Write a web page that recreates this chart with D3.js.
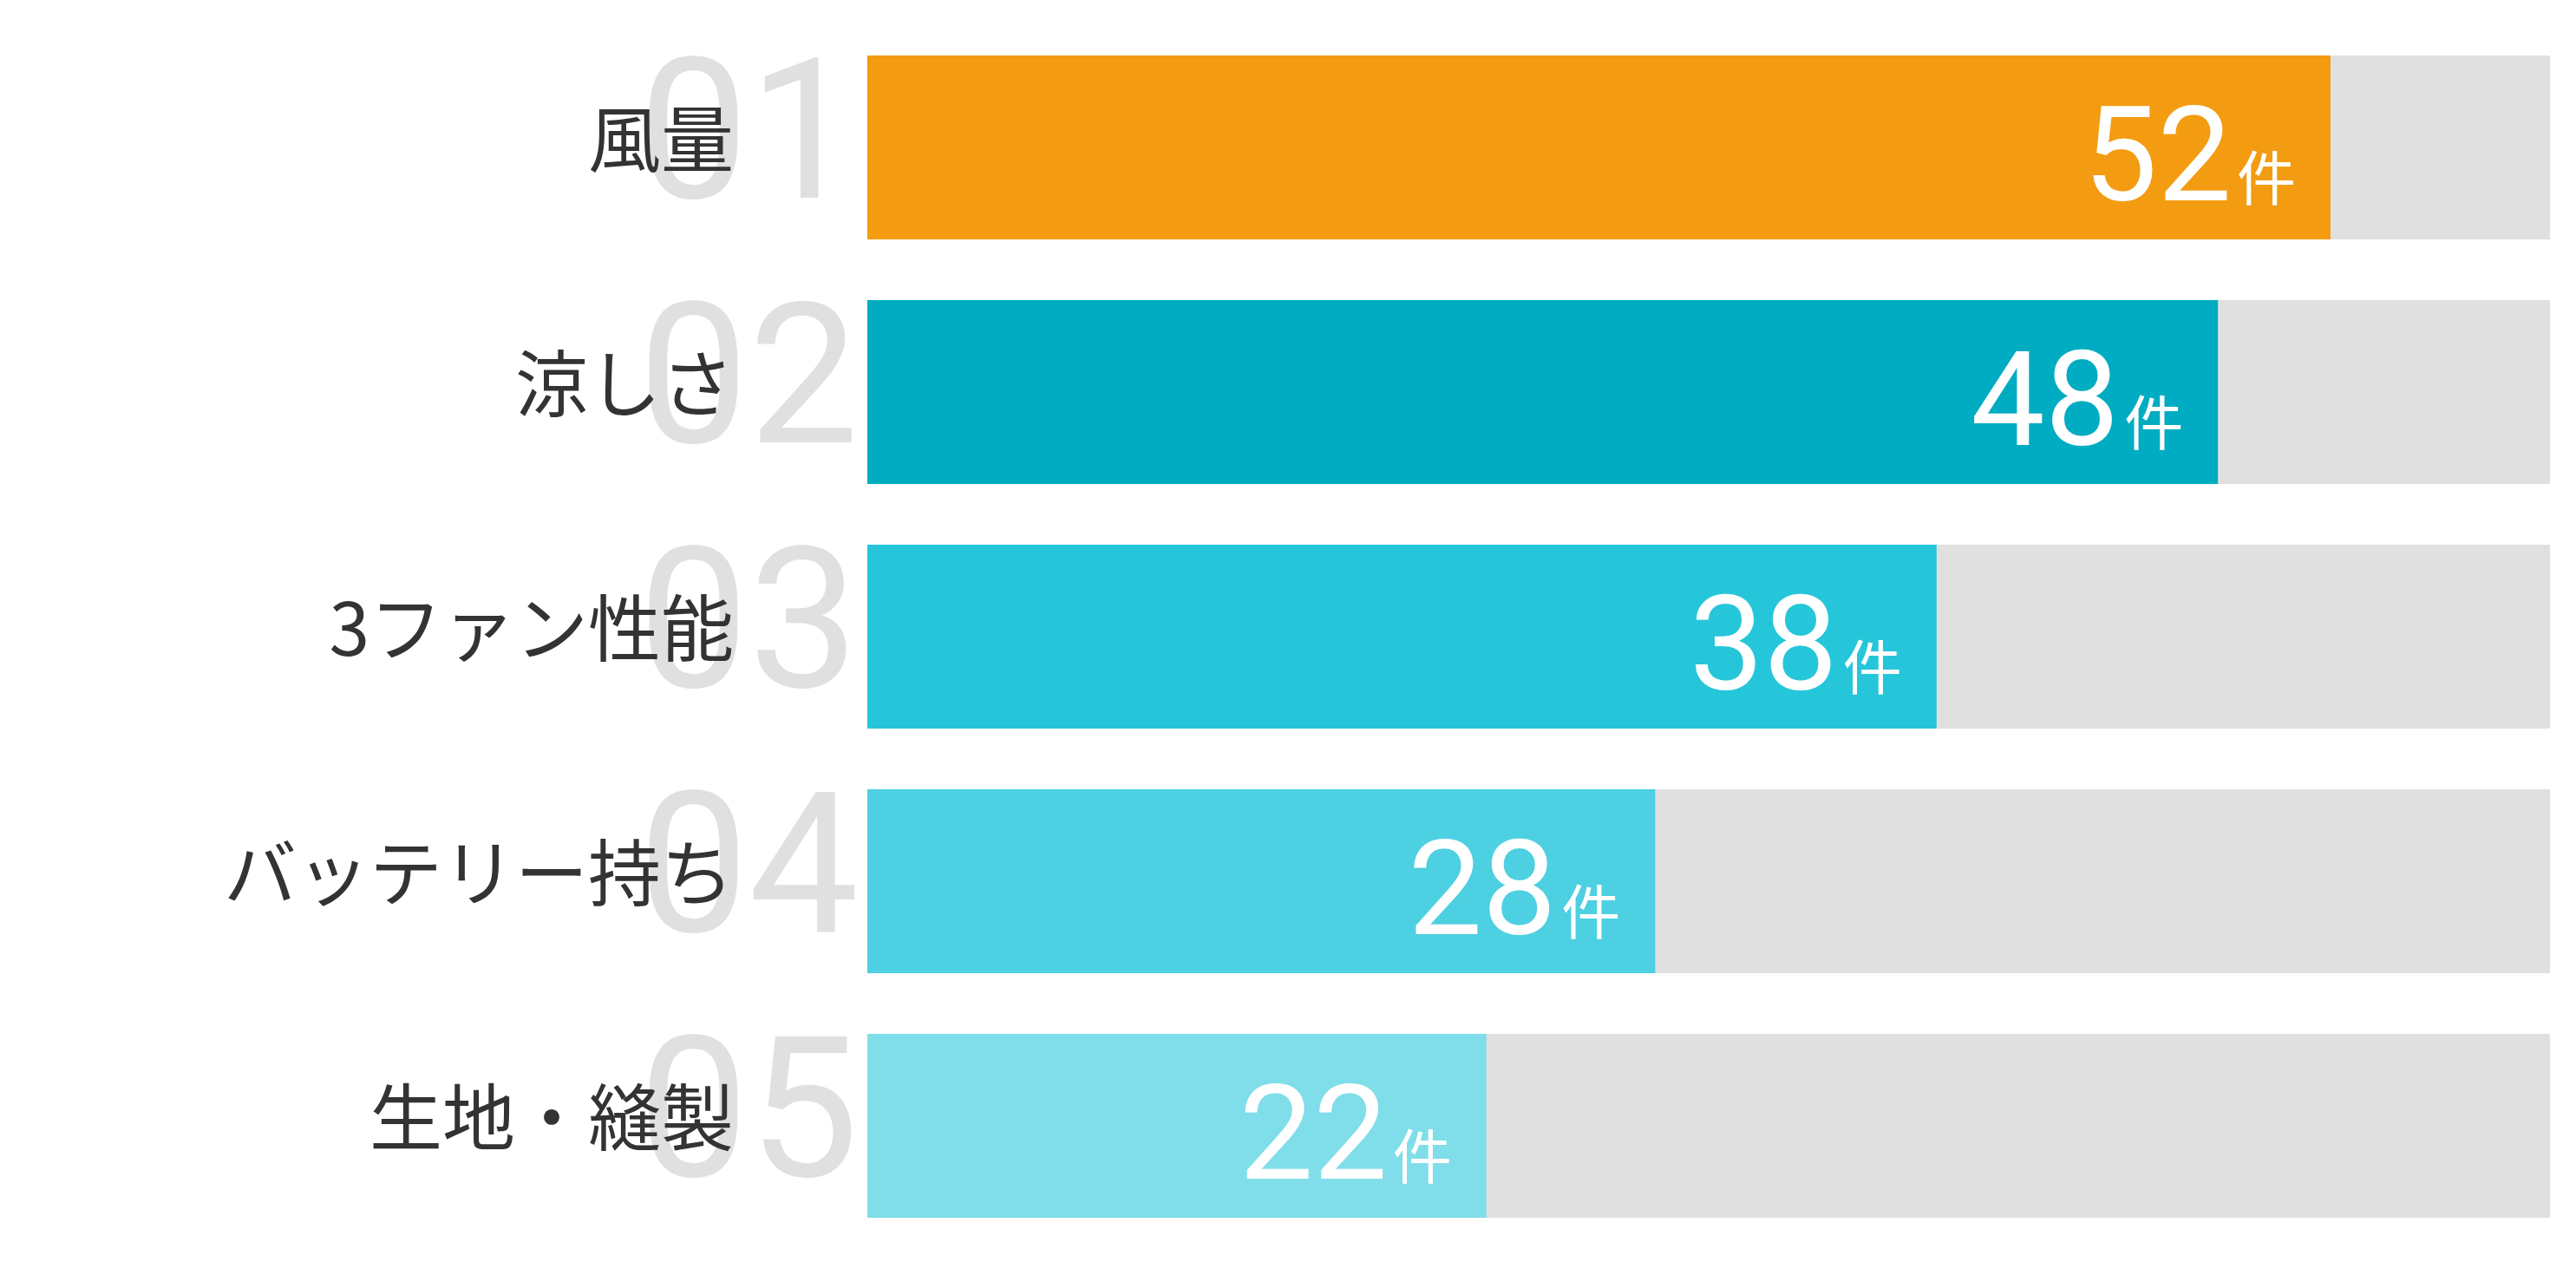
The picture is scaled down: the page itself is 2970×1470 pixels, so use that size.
<!DOCTYPE html>
<html>
<head>
<meta charset="utf-8">
<script src="https://cdn.jsdelivr.net/npm/d3@7"></script>
<style>
  body { margin: 0; background: #fff; }
  svg { display: block; }
</style>
</head>
<body>
<div id="chart"></div>
<script>
var categories = ["風量", "涼しさ", "3ファン性能", "バッテリー持ち", "生地・縫製"],
    ranks = ["01", "02", "03", "04", "05"],
    counts = [52, 48, 38, 28, 22],
    colors = ["#f39c12", "#00acc1", "#26c6da", "#4dd0e1", "#80deea"],
    unit = "件";

var width = 2970, height = 1470;

// track is a bit longer than the top bar
var xMax = d3.max(counts) * 1.15;
var x = d3.scaleLinear().domain([0, xMax]).range([1000, 2940]);
var y = d3.scaleBand().domain(categories).range([29, 1439])
    .paddingInner(0.248).paddingOuter(0.124);

var svg = d3.select("#chart").append("svg")
    .attr("width", width)
    .attr("height", height);

var rows = svg.selectAll("g.row")
    .data(categories)
  .enter().append("g")
    .attr("class", "row")
    .attr("transform", function(d) { return "translate(0," + y(d) + ")"; });

// big rank numbers behind the labels
rows.append("text")
    .attr("x", 990)
    .attr("y", 164)
    .attr("text-anchor", "end")
    .style("font-family", "Roboto, 'Noto Sans', sans-serif")
    .style("font-weight", 400)
    .style("font-size", "226px")
    .style("fill", "#e0e0e0")
    .text(function(d, i) { return ranks[i]; });

rows.append("text")
    .attr("x", 846)
    .attr("y", y.bandwidth() / 2 - 7)
    .attr("dy", "0.35em")
    .attr("text-anchor", "end")
    .style("font-family", "'Noto Sans CJK JP', sans-serif")
    .style("font-size", "84px")
    .style("fill", "#333")
    .text(function(d) { return d; });

// track
rows.append("rect")
    .attr("x", x(0))
    .attr("width", x(xMax) - x(0))
    .attr("height", y.bandwidth())
    .style("fill", "#e0e0e0");

rows.append("rect")
    .attr("x", x(0))
    .attr("width", function(d, i) { return x(counts[i]) - x(0); })
    .attr("height", y.bandwidth())
    .style("fill", function(d, i) { return colors[i]; });

var val = rows.append("text")
    .attr("x", function(d, i) { return x(counts[i]) - 40; })
    .attr("y", 167)
    .attr("text-anchor", "end")
    .style("fill", "#fff");

val.append("tspan")
    .style("font-family", "Roboto, 'Noto Sans', sans-serif")
    .style("font-size", "152px")
    .text(function(d, i) { return counts[i]; });

val.append("tspan")
    .attr("dx", 6)
    .style("font-family", "'Noto Sans CJK JP', sans-serif")
    .style("font-size", "68px")
    .text(unit);
</script>
</body>
</html>
